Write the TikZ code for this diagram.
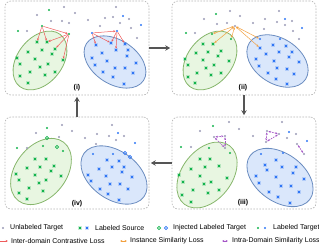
\documentclass[tikz,border=0pt]{standalone}
\usepackage{fontspec}
\setmainfont{Liberation Sans}
\usetikzlibrary{arrows.meta,shapes.misc}
\definecolor{unl}{HTML}{9A9AB6}
\definecolor{tgr}{HTML}{12B34C}
\definecolor{tbl}{HTML}{2F76F5}
\definecolor{gfill}{HTML}{E8F6E1}
\definecolor{gline}{HTML}{86B66B}
\definecolor{bfill}{HTML}{DAE7FB}
\definecolor{bline}{HTML}{6A8CC0}
\definecolor{inter}{HTML}{EE5B5B}
\definecolor{inst}{HTML}{F2A03F}
\definecolor{intra}{HTML}{A454C6}
\definecolor{frame}{HTML}{B4B4B4}
\definecolor{flow}{HTML}{555555}

\begin{document}
\begin{tikzpicture}[x=1pt,y=-1pt, font=\fontsize{7}{8}\selectfont,
  panel/.style={draw=frame, dash pattern=on 1.6pt off 1.4pt, line width=0.6pt, rounded corners=6pt, minimum width=144, inner sep=0},
  gell/.style={draw=gline, fill=gfill, line width=0.8pt},
  bell/.style={draw=bline, fill=bfill, line width=0.8pt},
  udot/.style={circle, fill=unl, inner sep=0, minimum size=2.4},
  gdot/.style={circle, fill=tgr, inner sep=0, minimum size=2.4},
  bdot/.style={circle, fill=tbl, inner sep=0, minimum size=2.4},
  gx/.style={cross out, draw=tgr, line width=0.9pt, inner sep=0, minimum size=1.8},
  bx/.style={cross out, draw=tbl, line width=0.9pt, inner sep=0, minimum size=1.8},
  gring/.style={circle, draw=tgr, line width=0.8pt, inner sep=0, minimum size=3.2},
  bring/.style={circle, draw=tbl, line width=0.8pt, inner sep=0, minimum size=3.2},
  tag/.style={font=\fontsize{7}{8}\selectfont\bfseries, inner sep=0},
  lbl/.style={anchor=west, inner sep=0},
  ia/.style={draw=inter, line width=0.5pt, -{Stealth[length=2.4pt,width=2pt]}},
  sa/.style={draw=inst, line width=0.5pt, {Stealth[length=2.4pt,width=2pt]}-{Stealth[length=2.4pt,width=2pt]}},
  da/.style={draw=intra, line width=0.7pt, dash pattern=on 1.5pt off 1pt, {Stealth[length=2.4pt,width=2pt]}-{Stealth[length=2.4pt,width=2pt]}},
  flowarr/.style={draw=flow, line width=1.6pt, -{Stealth[length=5pt,width=5.5pt]}, shorten >=1.5pt}]
\useasboundingbox (0,0) rectangle (319,248);

% panels and flow
\node[panel, minimum height=94] (p1) at (77,48) {};
\node[panel, minimum height=94] (p2) at (244,48) {};
\node[panel, minimum height=92] (p3) at (244,163) {};
\node[panel, minimum height=92] (p4) at (77,163) {};
\draw[flowarr] (p1) -- (p2);
\draw[flowarr] (p2) -- (p3);
\draw[flowarr] (p3) -- (p4);
\draw[flowarr] (p4) -- (p1);

% domains
\draw[gell, rotate around={52:(40,60.5)}] (40,60.5) ellipse [x radius=33, y radius=22.5];
\draw[bell, rotate around={-33:(115,62)}] (115,62) ellipse [x radius=34, y radius=22];
\draw[gell, rotate around={52:(210,60.5)}] (210,60.5) ellipse [x radius=33, y radius=22.5];
\draw[bell, rotate around={-33:(277.5,61)}] (277.5,61) ellipse [x radius=33.5, y radius=22.5];
\draw[gell, rotate around={52:(207,175)}] (207,175) ellipse [x radius=37, y radius=25];
\draw[bell, rotate around={-36:(280,177.5)}] (280,177.5) ellipse [x radius=37, y radius=24];
\draw[gell, rotate around={52:(41,171.5)}] (41,171.5) ellipse [x radius=37, y radius=25.5];
\draw[bell, rotate around={-36:(114,175)}] (114,175) ellipse [x radius=37, y radius=24];

\node[tag] (t1) at (77,88) {(i)};
\node[tag] (t2) at (243,88) {(ii)};
\node[tag] (t3) at (243,203) {(iii)};
\node[tag] (t4) at (77,204) {(iv)};

% (i)
\foreach \p [count=\i] in {(64,7),(37,15),(75,13),(51,21),(62,21),(69,23),(27,31),(116,7),(88,20),(105,18),(113,17),(129,19),(120,23),(100,26),(131,28),(137,38)}
  \node[udot] (ua\i) at \p {};
\foreach \p [count=\i] in {(49,10),(18,31)} \node[gdot] (ga\i) at \p {};
\foreach \p [count=\i] in {(123,16),(141,25)} \node[bdot] (ba\i) at \p {};
\foreach \p [count=\i] in {(28,52),(42,50),(52,54),(17,58),(35,59),(20,64),(48,64),(40,67),(30,72),(55,72),(45,75),(20,76),(28,83)}
  \node[gx] (gxa\i) at \p {};
\foreach \p [count=\i] in {(102,53),(128,50),(92,58),(127,56),(107,61),(95,65),(136,63),(115,68),(125,68),(103,72),(133,73),(113,77),(124,84)}
  \node[bx] (bxa\i) at \p {};
\node[gdot] (ha) at (42,26) {};
\node[gdot] (hb) at (69,34) {};
\node[gx] (sa1) at (37,42) {};
\node[gx] (sa2) at (47,42) {};
\node[gx] (sa3) at (55,49) {};
\node[gx] (sa4) at (63,60) {};
\node[bdot] (hc) at (92,33) {};
\node[bdot] (hd) at (117,31) {};
\node[bx] (sb1) at (96,45) {};
\node[bx] (sb2) at (111,43) {};
\node[bx] (sb3) at (116,50) {};
\node[bx] (sb4) at (125,44) {};
\draw[ia] (ha) -- (sa1);
\draw[ia] (ha) -- (sa2);
\draw[ia] (ha) -- (hb);
\draw[ia] (hb) -- (sa2);
\draw[ia] (hb) -- (sa3);
\draw[ia] (hb) -- (sa4);
\draw[ia] (hc) -- (sb1);
\draw[ia] (hc) -- (sb2);
\draw[ia] (hc) -- (hd);
\draw[ia] (hd) -- (sb2);
\draw[ia] (hd) -- (sb3);
\draw[ia] (hd) -- (sb4);

% (ii)
\foreach \p [count=\i] in {(230,11),(204,19),(240,16),(217,24),(227,23),(195,33),(253,23),(265,19),(279,11),(277,22),(285,25),(292,21),(264,29),(293,31),(299,39)}
  \node[udot] (ub\i) at \p {};
\foreach \p [count=\i] in {(216,14),(186,33)} \node[gdot] (gb\i) at \p {};
\foreach \p [count=\i] in {(285,19),(302,28),(280,39)} \node[bdot] (bb\i) at \p {};
\foreach \p [count=\i] in {(203,44),(196,53),(208,52),(221,51),(218,56),(185,59),(203,60),(229,61),(188,65),(214,65),(206,68),(197,73),(221,73),(211,75),(188,77),(195,83)}
  \node[gx] (gxb\i) at \p {};
\foreach \p [count=\i] in {(273,45),(286,46),(266,54),(279,52),(292,52),(256,59),(289,57),(274,61),(259,66),(299,62),(277,68),(287,69),(268,73),(294,74),(276,79),(287,84)}
  \node[bx] (bxb\i) at \p {};
\node[udot] (hu) at (235,26) {};
\node[gdot] (nb1) at (212,34) {};
\node[gx] (nb2) at (213,44) {};
\node[gdot] (nb3) at (231,39) {};
\node[bdot] (nb4) at (260,39) {};
\node[bx] (nb5) at (260,48) {};
\foreach \n in {nb1,nb2,nb3,nb4,nb5} \draw[sa] (hu) -- (\n);

% (iii)
\foreach \p [count=\i] in {(229,122),(282,122),(200,131),(239,129),(191,147),(253,136),(287,138),(296,134)}
  \node[udot] (uc\i) at \p {};
\foreach \p [count=\i] in {(213,126),(181,147),(209,148),(230,153)} \node[gdot] (gc\i) at \p {};
\foreach \p [count=\i] in {(289,132),(307,141),(261,154),(283,153)} \node[bdot] (bc\i) at \p {};
\foreach \p [count=\i] in {(200,159),(210,159),(191,169),(205,167),(219,166),(179,175),(200,176),(227,178),(183,182),(211,182),(204,184),(193,190),(219,190),(208,193),(182,195),(191,202)}
  \node[gx] (gxc\i) at \p {};
\foreach \p [count=\i] in {(276,160),(282,167),(265,165),(296,167),(256,176),(267,170),(276,177),(293,173),(259,183),(304,179),(281,186),(291,186),(269,192),(299,192),(278,197),(290,203)}
  \node[bx] (bxc\i) at \p {};
\node[udot] (ta1) at (214,137) {};
\node[udot] (ta2) at (225,136) {};
\node[udot] (ta3) at (225,148) {};
\node[udot] (tb1) at (267,131) {};
\node[udot] (tb2) at (279,134) {};
\node[udot] (tb3) at (266,142) {};
\node[udot] (tc1) at (297,144) {};
\node[udot] (tc2) at (304,154) {};
\draw[da] (ta1) -- (ta2);
\draw[da] (ta2) -- (ta3);
\draw[da] (ta1) -- (ta3);
\draw[da] (tb1) -- (tb2);
\draw[da] (tb2) -- (tb3);
\draw[da] (tb1) -- (tb3);
\draw[da] (tc1) -- (tc2);

% (iv)
\foreach \p [count=\i] in {(62,125),(112,125),(36,133),(72,131),(59,137),(27,148),(85,138),(97,134),(109,136),(116,140),(124,136),(96,144)}
  \node[udot] (ud\i) at \p {};
\foreach \p [count=\i] in {(47,128),(17,148),(43,146),(63,151)} \node[gdot] (gd\i) at \p {};
\foreach \p [count=\i] in {(118,133),(135,143),(93,154),(113,154)} \node[bdot] (bd\i) at \p {};
\foreach \p [count=\i] in {(47,138),(57,147)} \node[gring] (gr\i) at \p {};
\foreach \p [count=\i] in {(125,153),(130,157)} \node[bring] (br\i) at \p {};
\foreach \p [count=\i] in {(35,159),(46,159),(27,168),(40,167),(54,166),(51,171),(16,174),(35,175),(61,176),(19,180),(46,180),(39,183),(29,188),(43,191),(19,193),(27,199)}
  \node[gx] (gxd\i) at \p {};
\foreach \p [count=\i] in {(107,160),(119,161),(99,169),(112,167),(124,167),(88,175),(106,176),(122,172),(132,177),(91,181),(110,184),(120,184),(100,189),(128,189),(108,194),(119,200)}
  \node[bx] (bxd\i) at \p {};

% legend
\node[udot] (k1) at (3,228) {};
\node[lbl] (k1t) at (10,228) {Unlabeled Target};
\node[gx] (k2a) at (80,228) {};
\node[bx] (k2b) at (87,228) {};
\node[lbl] (k2t) at (95,228) {Labeled Source};
\node[gring] (k3a) at (159,228) {};
\node[bring] (k3b) at (166,228) {};
\node[lbl] (k3t) at (173,228) {Injected Labeled Target};
\node[gdot] (k4a) at (258,228) {};
\node[bdot] (k4b) at (265,228) {};
\node[lbl] (k4t) at (273,228) {Labeled Target};
\coordinate (r1) at (0,241);
\coordinate (r2) at (8,241);
\draw[ia] (r1) -- (r2);
\node[lbl] (k5t) at (11,241) {Inter-domain Contrastive Loss};
\coordinate (r3) at (120,241);
\coordinate (r4) at (127,241);
\draw[sa] (r3) -- (r4);
\node[lbl] (k6t) at (130,241) {Instance Similarity Loss};
\coordinate (r5) at (222,241);
\coordinate (r6) at (228,241);
\draw[draw=intra, line width=0.6pt, {Stealth[length=2.4pt,width=2pt]}-{Stealth[length=2.4pt,width=2pt]}] (r5) -- (r6);
\node[lbl] (k7t) at (232,241) {Intra-Domain Similarity Loss};
\end{tikzpicture}
\end{document}
